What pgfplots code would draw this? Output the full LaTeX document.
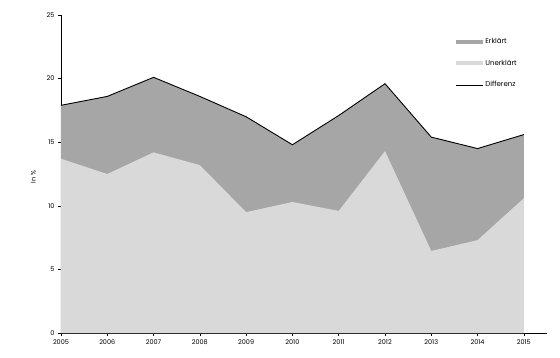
\documentclass[border=0pt]{standalone}
\usepackage{pgfplots}
\pgfplotsset{compat=1.18}
\usepackage{fontspec}
\setmainfont{Poppins}
\definecolor{erkl}{HTML}{A6A6A6}
\definecolor{unerkl}{HTML}{D9D9D9}
\begin{document}
\begin{tikzpicture}[x=1pt,y=1pt]
\path[use as bounding box] (-61,-24) rectangle (499,333);
\begin{axis}[
  scale only axis,
  width=486pt, height=318pt,
  xmin=2005, xmax=2015.5,
  ymin=0, ymax=25,
  axis lines=left,
  axis line style={line width=0.8pt,-},
  xtick={2005,...,2015},
  ytick={0,5,10,15,20,25},
  xticklabel style={/pgf/number format/1000 sep=},
  /pgf/number format/assume math mode=true,
  tick style={black, line width=0.6pt},
  tick align=outside,
  major tick length=3pt,
  tick label style={font=\fontsize{6.5}{8}\selectfont},
  ylabel={In \%},
  ylabel style={font=\fontsize{6.5}{8}\selectfont, at={(axis description cs:-0.045,0.49)}},
  legend style={at={(0.805,0.94)}, anchor=north west, draw=none, fill=none,
    font=\fontsize{7}{8}\selectfont, row sep=11pt, cells={anchor=west}},
  legend cell align=left,
]
\addplot[fill=erkl, draw=none, area legend,
  legend image code/.code={\fill[erkl] (0pt,-2pt) rectangle (27pt,2pt);}]
  coordinates {(2005,17.9) (2006,18.6) (2007,20.1) (2008,18.6) (2009,17.0) (2010,14.8) (2011,17.1) (2012,19.6) (2013,15.4) (2014,14.5) (2015,15.6)} \closedcycle;
\addlegendentry{Erklärt}
\addplot[fill=unerkl, draw=none, area legend,
  legend image code/.code={\fill[unerkl] (0pt,-2pt) rectangle (27pt,2pt);}]
  coordinates {(2005,13.7) (2006,12.5) (2007,14.2) (2008,13.2) (2009,9.5) (2010,10.3) (2011,9.6) (2012,14.3) (2013,6.45) (2014,7.3) (2015,10.6)} \closedcycle;
\addlegendentry{Unerklärt}
\addplot[black, line width=0.9pt, mark=none,
  legend image code/.code={\draw[black, line width=0.9pt] (0pt,0pt) -- (27pt,0pt);}]
  coordinates {(2005,17.9) (2006,18.6) (2007,20.1) (2008,18.6) (2009,17.0) (2010,14.8) (2011,17.1) (2012,19.6) (2013,15.4) (2014,14.5) (2015,15.6)};
\addlegendentry{Differenz}
\end{axis}
\end{tikzpicture}
\end{document}
